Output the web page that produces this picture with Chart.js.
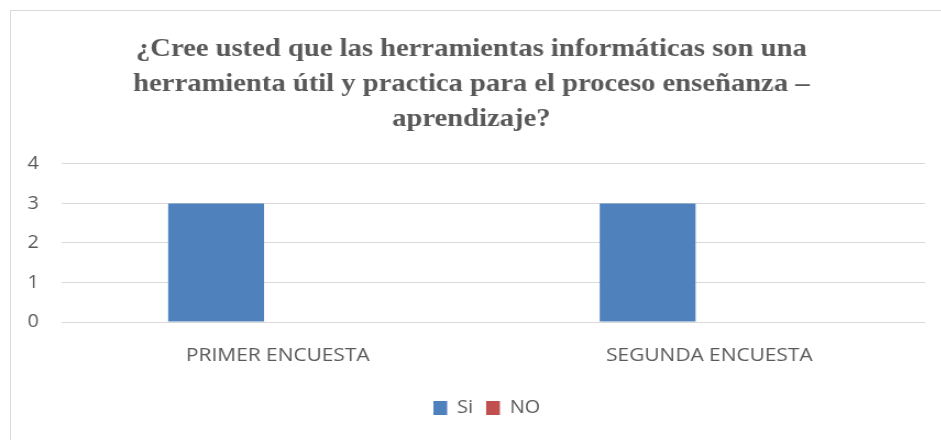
<!DOCTYPE html>
<html><head><meta charset="utf-8">
<script src="https://cdn.jsdelivr.net/npm/chart.js@4"></script>
<style>
html,body{margin:0;padding:0;background:#fff;overflow:hidden;width:941px;height:440px}
#frame{position:absolute;left:10px;top:10px;width:960px;height:460px;border:1px solid #d9d9d9;box-sizing:border-box}
#wrap{position:absolute;left:0;top:0;width:855px;height:440px;transform-origin:0 0;transform:scaleX(1.1)}
</style></head>
<body>
<div id="frame"></div>
<div id="wrap"><canvas id="c" width="855" height="440"></canvas></div>
<script>
const categories = ["PRIMER ENCUESTA", "SEGUNDA ENCUESTA"];
const siValues = [3, 3];
const noValues = [0, 0];
const yTicks = [0, 1, 2, 3, 4];
const titleLines = ["¿Cree usted que las herramientas informáticas son una", "herramienta útil y practica para el proceso enseñanza –", "aprendizaje?"];

const boxShift = {
  id: 'boxShift',
  afterLayout(chart) {
    chart.legend.left += 22;
    chart.legend.right += 22;
    chart.titleBlock.left += 8;
    chart.titleBlock.right += 8;
  }
};

new Chart(document.getElementById('c'), {
  type: 'bar',
  plugins: [boxShift],
  data: {
    labels: categories,
    datasets: [
      {label: 'Si', data: siValues, backgroundColor: '#4F81BD', borderWidth: 0, categoryPercentage: 0.572, barPercentage: 0.777},
      {label: 'NO', data: noValues, backgroundColor: '#C0504D', borderWidth: 0, categoryPercentage: 0.572, barPercentage: 0.777}
    ]
  },
  options: {
    responsive: false,
    animation: false,
    layout: {padding: {left: 0, right: 14, top: 0, bottom: 13}},
    plugins: {
      title: {
        display: true, text: titleLines, color: '#595959',
        font: {family: '"Liberation Serif"', size: 26, weight: 'bold', lineHeight: 1.345},
        padding: {top: 32, bottom: 27}
      },
      legend: {
        position: 'bottom',
        labels: {boxWidth: 12.5, boxHeight: 14, color: '#595959', font: {family: '"Open Sans"', size: 18}, padding: 12}
      },
      tooltip: {enabled: false}
    },
    scales: {
      x: {
        afterFit: s => { s.height = 65; },
        grid: {display: false, drawTicks: false},
        border: {display: false},
        ticks: {color: '#595959', font: {family: '"Open Sans"', size: 19}, padding: 22}
      },
      y: {
        min: 0, max: 4,
        afterFit: s => { s.width = 56.4; },
        afterBuildTicks: s => { s.ticks = yTicks.map(v => ({value: v})); },
        grid: {color: '#d9d9d9', lineWidth: 1, drawTicks: false},
        border: {display: false},
        ticks: {color: '#595959', font: {family: '"Open Sans"', size: 18}, padding: 21}
      }
    }
  }
});
</script>
</body></html>
